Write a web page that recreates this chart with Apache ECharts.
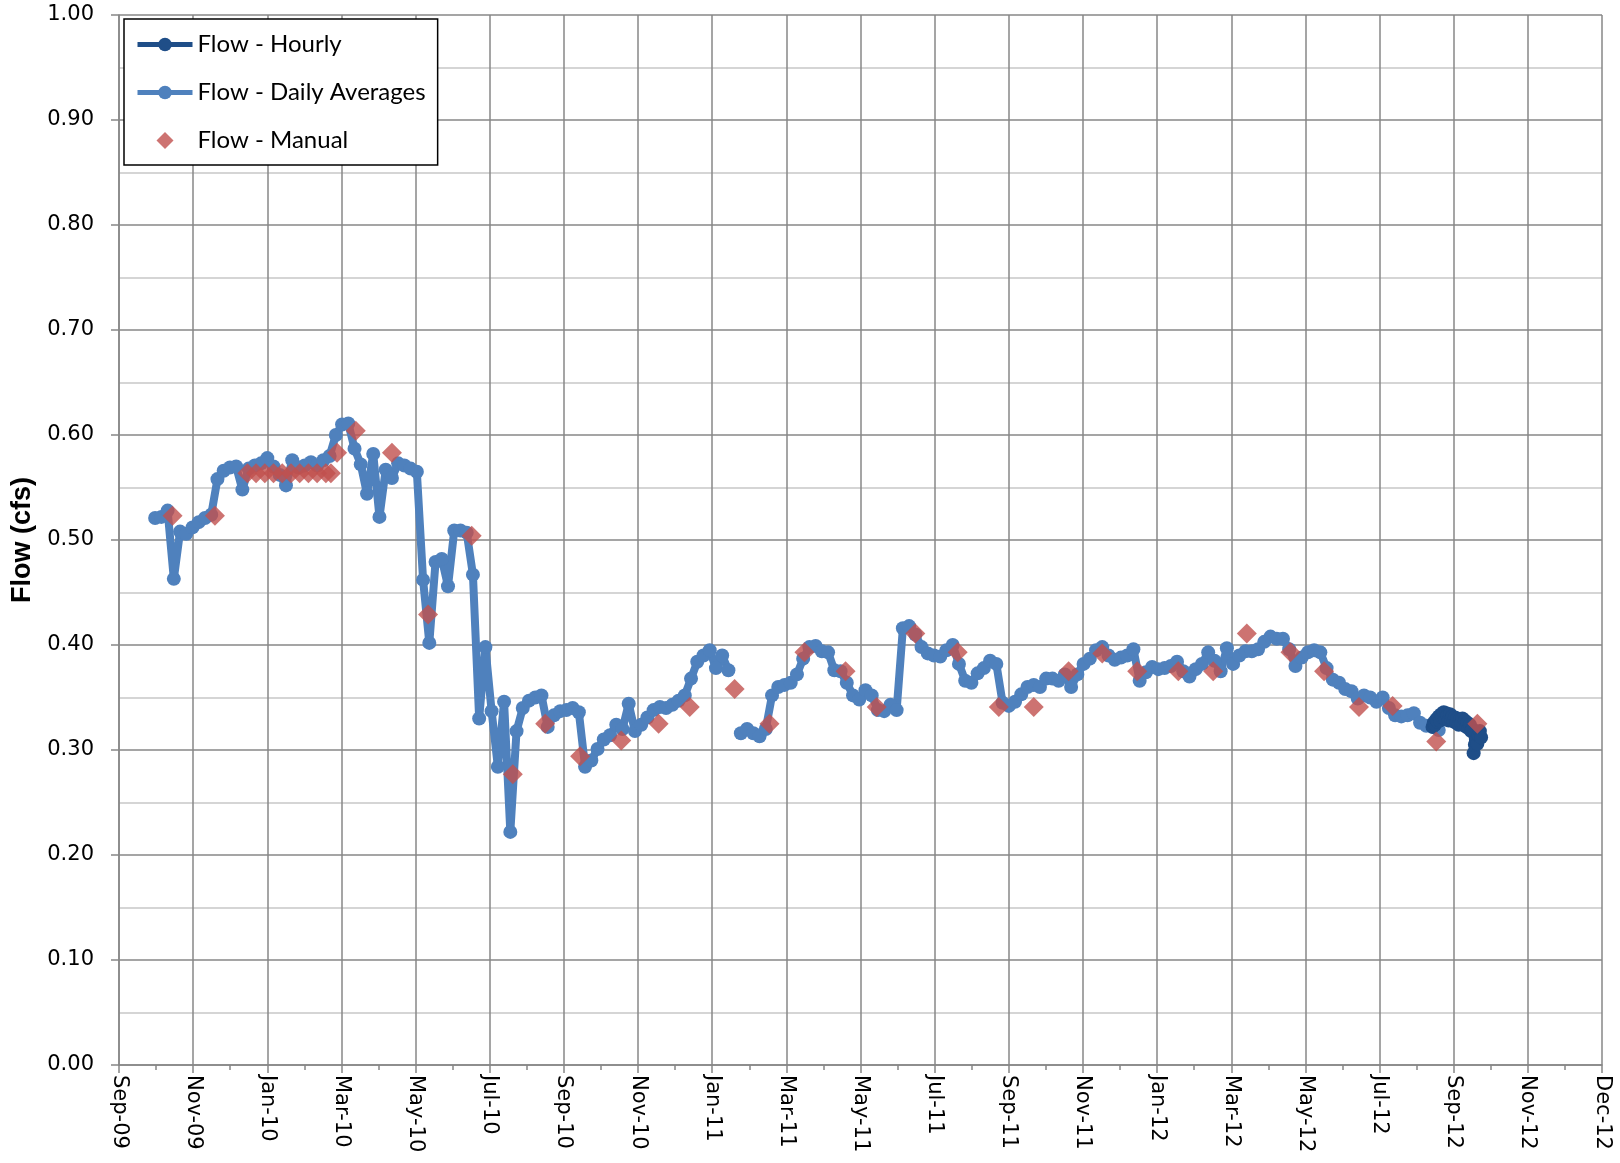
<!DOCTYPE html>
<html><head><meta charset="utf-8">
<script src="https://cdn.jsdelivr.net/npm/echarts@6/dist/echarts.min.js"></script>
<style>html,body{margin:0;padding:0;background:#fff}#chart{width:1620px;height:1163px}</style>
</head><body><div id="chart"></div>
<script>
// x axis: days counted from the axis origin; one labelled tick every 59.5 days
const axisOrigin = '2009-09-28';
const tickStepDays = 59.5;
const tickLabels = ['Sep-09','Nov-09','Jan-10','Mar-10','May-10','Jul-10','Sep-10','Nov-10','Jan-11','Mar-11','May-11','Jul-11','Sep-11','Nov-11','Jan-12','Mar-12','May-12','Jul-12','Sep-12','Nov-12','Dec-12'];
const yTicks = [0,0.1,0.2,0.3,0.4,0.5,0.6,0.7,0.8,0.9,1.0];

// Flow - Daily Averages (cfs), read every 5 days from the start date; null = no data
const dailyStart = '2009-10-27';
const dailyStepDays = 5;
const dailyFlow = [
  0.521,0.522,0.528,0.463,0.508,0.506,0.512,0.517,0.521,0.524,
  0.558,0.566,0.569,0.570,0.548,0.568,0.571,0.573,0.578,0.570,
  0.562,0.552,0.576,0.569,0.571,0.574,0.571,0.576,0.580,0.600,
  0.610,0.611,0.587,0.572,0.544,0.582,0.522,0.567,0.559,0.573,
  0.571,0.568,0.565,0.462,0.402,0.479,0.482,0.456,0.509,0.509,
  0.507,0.467,0.330,0.398,0.337,0.284,0.346,0.222,0.318,0.340,
  0.347,0.350,0.352,0.322,0.333,0.337,0.338,0.340,0.336,0.284,
  0.290,0.301,0.310,0.314,0.324,0.320,0.344,0.318,0.324,0.331,
  0.338,0.341,0.340,0.343,0.347,0.352,0.368,0.384,0.390,0.395,
  0.378,0.390,0.376,null,0.316,0.320,0.316,0.313,0.320,0.352,
  0.360,0.362,0.364,0.372,0.387,0.398,0.399,0.394,0.393,0.376,
  0.375,0.364,0.352,0.348,0.357,0.352,0.338,0.337,0.343,0.338,
  0.416,0.418,0.410,0.398,0.392,0.390,0.389,0.395,0.400,0.382,
  0.366,0.364,0.373,0.378,0.385,0.382,0.345,0.342,0.346,0.353,
  0.360,0.362,0.360,0.368,0.368,0.366,0.372,0.360,0.372,0.382,
  0.387,0.395,0.398,0.390,0.386,0.388,0.390,0.396,0.366,0.374,
  0.379,0.377,0.378,0.380,0.384,0.375,0.370,0.377,0.382,0.393,
  0.385,0.375,0.397,0.382,0.390,0.394,0.394,0.396,0.403,0.408,
  0.406,0.406,0.396,0.380,0.388,0.393,0.395,0.393,0.378,0.367,
  0.364,0.358,0.356,0.349,0.352,0.350,0.346,0.350,0.340,0.333,
  0.332,0.333,0.335,0.326,0.323,0.322,0.319
];

// Flow - Hourly (cfs), read once per day from the start date
const hourlyStart = '2012-08-17';
const hourlyStepDays = 1;
const hourlyFlow = [
  0.322,0.326,0.324,0.329,0.327,0.332,0.328,0.334,0.331,0.336,
  0.330,0.335,0.333,0.328,0.334,0.329,0.332,0.327,0.331,0.326,
  0.330,0.324,0.329,0.325,0.330,0.324,0.328,0.322,0.326,0.321,
  0.324,0.318,0.320,0.297,0.305,0.310,0.306,0.314,0.318,0.312
];

// Flow - Manual (cfs)
const manualDates = [
  '2009-11-10','2009-12-14','2010-01-09','2010-01-16','2010-01-23','2010-01-30','2010-02-06','2010-02-13',
  '2010-02-20','2010-02-27','2010-03-06','2010-03-13','2010-03-17','2010-03-22','2010-04-06','2010-05-05',
  '2010-06-03','2010-07-08','2010-08-10','2010-09-05','2010-10-03','2010-11-05','2010-12-05','2010-12-30',
  '2011-02-04','2011-03-04','2011-04-01','2011-05-04','2011-05-29','2011-06-29','2011-08-02','2011-09-04',
  '2011-10-02','2011-10-30','2011-11-26','2011-12-24','2012-01-26','2012-02-23','2012-03-21','2012-04-25',
  '2012-05-22','2012-06-19','2012-07-16','2012-08-20','2012-09-22'
];
const manualFlow = [
  0.523,0.523,0.5635,0.5635,0.5635,0.5635,0.5635,0.5635,
  0.5635,0.5635,0.5635,0.5635,0.5635,0.583,0.604,0.583,
  0.429,0.504,0.277,0.325,0.294,0.309,0.325,0.341,
  0.358,0.325,0.393,0.375,0.341,0.411,0.393,0.341,
  0.341,0.375,0.392,0.375,0.375,0.375,0.411,0.393,
  0.375,0.341,0.342,0.308,0.325
];

const origin = Date.parse(axisOrigin + 'T00:00:00Z');
const dayOf = s => (Date.parse(s + 'T00:00:00Z') - origin) / 86400000;
const d0 = dayOf(dailyStart);
const h0 = dayOf(hourlyStart);
const dailyData = dailyFlow.map((v, i) => [d0 + i * dailyStepDays, v === null ? '-' : v]);
const hourlyData = hourlyFlow.map((v, i) => [h0 + i * hourlyStepDays, v]);
const manualData = manualDates.map((s, i) => [dayOf(s), manualFlow[i]]);

const gridCol = '#878787';
const chart = echarts.init(document.getElementById('chart'));
chart.setOption({
  animation: false,
  backgroundColor: '#ffffff',
  grid: { left: 119, right: 18, top: 15, bottom: 98 },
  legend: {
    data: [
      { name: 'Flow - Hourly' },
      { name: 'Flow - Daily Averages' },
      { name: 'Flow - Manual', icon: 'path://M10,0L20,10L10,20L0,10Z' }
    ],
    orient: 'vertical', left: 124, top: 19,
    padding: [13, 12, 12, 11],
    itemWidth: 55, itemHeight: 17, itemGap: 23,
    symbolKeepAspect: true,
    lineStyle: { width: 5 },
    backgroundColor: '#ffffff', borderColor: '#000000', borderWidth: 1.5,
    textStyle: { fontFamily: 'Lato', fontSize: 24, color: '#000', lineHeight: 25 },
    selectedMode: false
  },
  xAxis: {
    type: 'value', min: 0, max: tickStepDays * (tickLabels.length - 1), interval: tickStepDays,
    axisLine: { lineStyle: { color: gridCol, width: 1.5 } },
    axisTick: { show: true, length: 8, lineStyle: { color: gridCol, width: 1.5 } },
    minorTick: { show: true, splitNumber: 2, length: 5, lineStyle: { color: gridCol, width: 1.5 } },
    splitLine: { show: true, lineStyle: { color: gridCol, width: 1.5 } },
    axisLabel: {
      rotate: -90, margin: 10, fontFamily: 'DejaVu Sans', fontSize: 21, color: '#000',
      formatter: v => tickLabels[Math.round(v / tickStepDays)] || ''
    }
  },
  yAxis: {
    type: 'value', min: yTicks[0], max: yTicks[yTicks.length - 1], interval: 0.1,
    name: 'Flow (cfs)', nameLocation: 'middle', nameGap: 82, nameRotate: 90,
    nameTextStyle: { fontFamily: 'Liberation Sans', fontWeight: 'bold', fontSize: 27, color: '#000' },
    axisLine: { show: true, lineStyle: { color: gridCol, width: 1.5 } },
    axisTick: { show: true, length: 8, lineStyle: { color: gridCol, width: 1.5 } },
    minorTick: { show: false, splitNumber: 2 },
    minorSplitLine: { show: true, lineStyle: { color: '#c8c8c8', width: 1.5 } },
    splitLine: { show: true, lineStyle: { color: gridCol, width: 1.5 } },
    axisLabel: { formatter: v => v.toFixed(2), fontFamily: 'DejaVu Sans', fontSize: 21, color: '#000', margin: 25 }
  },
  series: [
    {
      name: 'Flow - Daily Averages', type: 'line', data: dailyData, z: 2,
      symbol: 'circle', symbolSize: 14, showAllSymbol: true, connectNulls: false,
      lineStyle: { color: '#4F81BD', width: 8 }, itemStyle: { color: '#4F81BD' }
    },
    {
      name: 'Flow - Hourly', type: 'line', data: hourlyData, z: 3,
      symbol: 'circle', symbolSize: 14, showAllSymbol: true,
      lineStyle: { color: '#1F4E88', width: 8 }, itemStyle: { color: '#1F4E88' }
    },
    {
      name: 'Flow - Manual', type: 'scatter', data: manualData, z: 4,
      symbol: 'diamond', symbolSize: 20, itemStyle: { color: '#C0504D' }
    }
  ]
});
</script></body></html>
